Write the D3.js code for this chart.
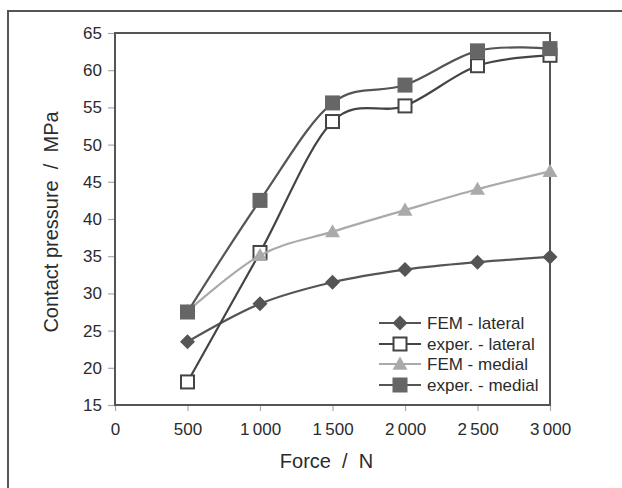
<!DOCTYPE html>
<html>
<head>
<meta charset="utf-8">
<script src="https://cdnjs.cloudflare.com/ajax/libs/d3/7.8.5/d3.min.js"></script>
<style>
  body { margin: 0; background: #fff; }
  svg text { font-family: "Liberation Sans", Arial, sans-serif; fill: #2b2b2b; white-space: pre; }
</style>
</head>
<body>
<script>
// data
var forces = [500, 1000, 1500, 2000, 2500, 3000];
var femLateral = [23.5, 28.6, 31.5, 33.2, 34.2, 34.9];
var experLateral = [18.1, 35.5, 53.1, 55.2, 60.6, 62.0];
var femMedial = [27.6, 35.1, 38.3, 41.2, 44.0, 46.4];
var experMedial = [27.5, 42.5, 55.6, 58.0, 62.6, 62.9];
var seriesNames = ["FEM - lateral", "exper. - lateral", "FEM - medial", "exper. - medial"];
var xTicks = [0, 500, 1000, 1500, 2000, 2500, 3000];
var yTicks = [15, 20, 25, 30, 35, 40, 45, 50, 55, 60, 65];

var w = 622, h = 488;
var pLeft = 115, pRight = 550, pTop = 33, pBottom = 405;

var svg = d3.select("body").append("svg")
  .attr("width", w)
  .attr("height", h);

// outer frame
svg.append("rect")
  .attr("x", 8).attr("y", 11)
  .attr("width", 700).attr("height", 600)
  .attr("fill", "none")
  .attr("stroke", "#555")
  .attr("stroke-width", 2);

var x = d3.scaleLinear().domain([0, 3000]).range([pLeft, pRight]);
var y = d3.scaleLinear().domain([15, 65]).range([pBottom, pTop]);

var fmt = function(d) {
  return d >= 1000 ? String(Math.floor(d / 1000)) + "\u2009" + String(d % 1000).padStart(3, "0") : String(d);
};

var xAxis = svg.append("g")
  .attr("transform", "translate(0," + pBottom + ")")
  .call(d3.axisBottom(x).tickValues(xTicks).tickFormat(fmt).tickSize(6).tickPadding(12));
var yAxis = svg.append("g")
  .attr("transform", "translate(" + pLeft + ",0)")
  .call(d3.axisLeft(y).tickValues(yTicks).tickSize(7).tickPadding(6));

[xAxis, yAxis].forEach(function(g) {
  g.select(".domain").remove();
  g.selectAll(".tick line").attr("stroke", "#aaa").attr("stroke-width", 1.2);
  g.selectAll(".tick text")
    .attr("font-size", 17)
    .style("font-family", "'Liberation Sans', Arial, sans-serif")
    .attr("fill", "#2b2b2b");
});

// plot box
svg.append("rect")
  .attr("x", pLeft).attr("y", pTop)
  .attr("width", pRight - pLeft).attr("height", pBottom - pTop)
  .attr("fill", "none")
  .attr("stroke", "#555")
  .attr("stroke-width", 2);

svg.append("text")
  .attr("x", (pLeft + pRight) / 2 - 6)
  .attr("y", 468)
  .attr("text-anchor", "middle")
  .attr("font-size", 20)
  .text("Force  /  N");

svg.append("text")
  .attr("transform", "translate(58," + ((pTop + pBottom) / 2 + 3) + ") rotate(-90)")
  .attr("text-anchor", "middle")
  .attr("font-size", 20)
  .text("Contact pressure  /  MPa");

var styles = [
  { color: "#555", marker: "diamond", fill: "#555" },
  { color: "#444", marker: "square", fill: "#fff" },
  { color: "#aaa", marker: "triangle", fill: "#aaa" },
  { color: "#555", marker: "square", fill: "#666" }
];
var allSeries = [femLateral, experLateral, femMedial, experMedial];

var line = d3.line()
  .x(function(d, i) { return x(forces[i]); })
  .y(function(d) { return y(d); })
  .curve(d3.curveCardinal.tension(0));

function drawMarker(g, kind, cx, cy, st) {
  if (kind === "diamond") {
    var r = 7.5;
    g.append("path")
      .attr("d", "M" + cx + "," + (cy - r) + "L" + (cx + r) + "," + cy + "L" + cx + "," + (cy + r) + "L" + (cx - r) + "," + cy + "Z")
      .attr("fill", st.fill);
  } else if (kind === "triangle") {
    var s = 7.5;
    g.append("path")
      .attr("d", "M" + cx + "," + (cy - s) + "L" + (cx + s) + "," + (cy + s * 0.75) + "L" + (cx - s) + "," + (cy + s * 0.75) + "Z")
      .attr("fill", st.fill);
  } else {
    var half = st.fill === "#fff" ? 6.5 : 7.5;
    g.append("rect")
      .attr("x", cx - half).attr("y", cy - half)
      .attr("width", half * 2).attr("height", half * 2)
      .attr("fill", st.fill)
      .attr("stroke", st.fill === "#fff" ? st.color : "none")
      .attr("stroke-width", 2);
  }
}

allSeries.forEach(function(vals, k) {
  var st = styles[k];
  var g = svg.append("g");
  g.append("path")
    .datum(vals)
    .attr("d", line)
    .attr("fill", "none")
    .attr("stroke", st.color)
    .attr("stroke-width", 2.2);
  vals.forEach(function(v, i) {
    drawMarker(g, st.marker, x(forces[i]), y(v), st);
  });
});

// legend
var legY = [323, 344, 364, 385];
seriesNames.forEach(function(name, k) {
  var st = styles[k];
  var g = svg.append("g");
  g.append("line")
    .attr("x1", 379).attr("x2", 421)
    .attr("y1", legY[k]).attr("y2", legY[k])
    .attr("stroke", st.color)
    .attr("stroke-width", 2.2);
  drawMarker(g, st.marker, 400, legY[k], st);
  g.append("text")
    .attr("x", 427)
    .attr("y", legY[k] + 6)
    .attr("font-size", 17)
    .text(name);
});
</script>
</body>
</html>
